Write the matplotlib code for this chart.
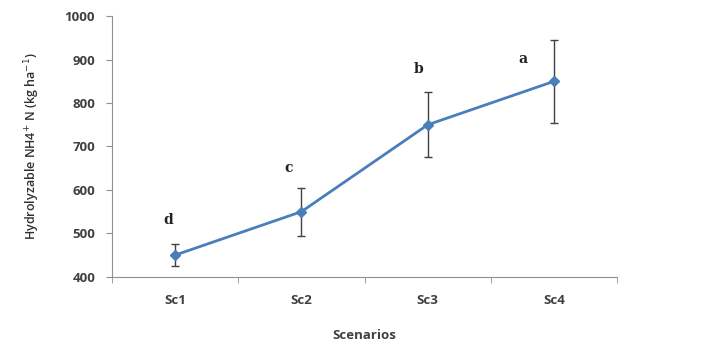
import numpy as np
import matplotlib.pyplot as plt

scenarios = ['Sc1', 'Sc2', 'Sc3', 'Sc4']
nh4 = [450, 550, 750, 850]
err = [25, 55, 75, 95]
letters = ['d', 'c', 'b', 'a']
letter_y = [530, 650, 878, 902]
letter_dx = [-0.05, -0.1, -0.07, -0.25]

plt.rcParams['font.family'] = ['Open Sans', 'DejaVu Sans']

fig = plt.figure(figsize=(7.17, 3.5), dpi=100)
ax = fig.add_axes([0.156, 0.209, 0.705, 0.745])

x = np.arange(len(scenarios))
ax.errorbar(x, nh4, yerr=err, color='#4A7EBB', lw=2, marker='D', ms=5,
            ecolor='#404040', elinewidth=1, capsize=3, capthick=1)

for xi, lab, ly, dx in zip(x, letters, letter_y, letter_dx):
    ax.text(xi + dx, ly, lab, family='DejaVu Serif', fontweight='bold',
            fontsize=10, ha='center', va='center', color='#222222')

ax.set_xlim(-0.5, 3.5)
ax.set_ylim(400, 1000)
ax.set_yticks(range(400, 1001, 100))
ax.set_xticks(x)
ax.set_xticklabels(scenarios)
ax.set_xticks(np.arange(-0.5, 3.6, 1), minor=True)
ax.tick_params(axis='x', which='major', length=0, pad=12)
ax.tick_params(axis='x', which='minor', length=4, color='#909090')
ax.tick_params(axis='y', length=4, color='#909090', pad=8)
for t in ax.get_xticklabels() + ax.get_yticklabels():
    t.set_fontweight('bold')
    t.set_fontsize(9.5)
    t.set_color('#404040')

for s in ['top', 'right']:
    ax.spines[s].set_visible(False)
for s in ['left', 'bottom']:
    ax.spines[s].set_color('#909090')

ax.set_xlabel('Scenarios', fontsize=9.5, fontweight='bold', color='#404040', labelpad=16)
ax.set_ylabel('Hydrolyzable NH4$^{+}$ N (kg ha$^{-1}$)', fontsize=9,
              fontweight='semibold', color='#303030', labelpad=16)

fig.savefig('out.png', dpi=100)
